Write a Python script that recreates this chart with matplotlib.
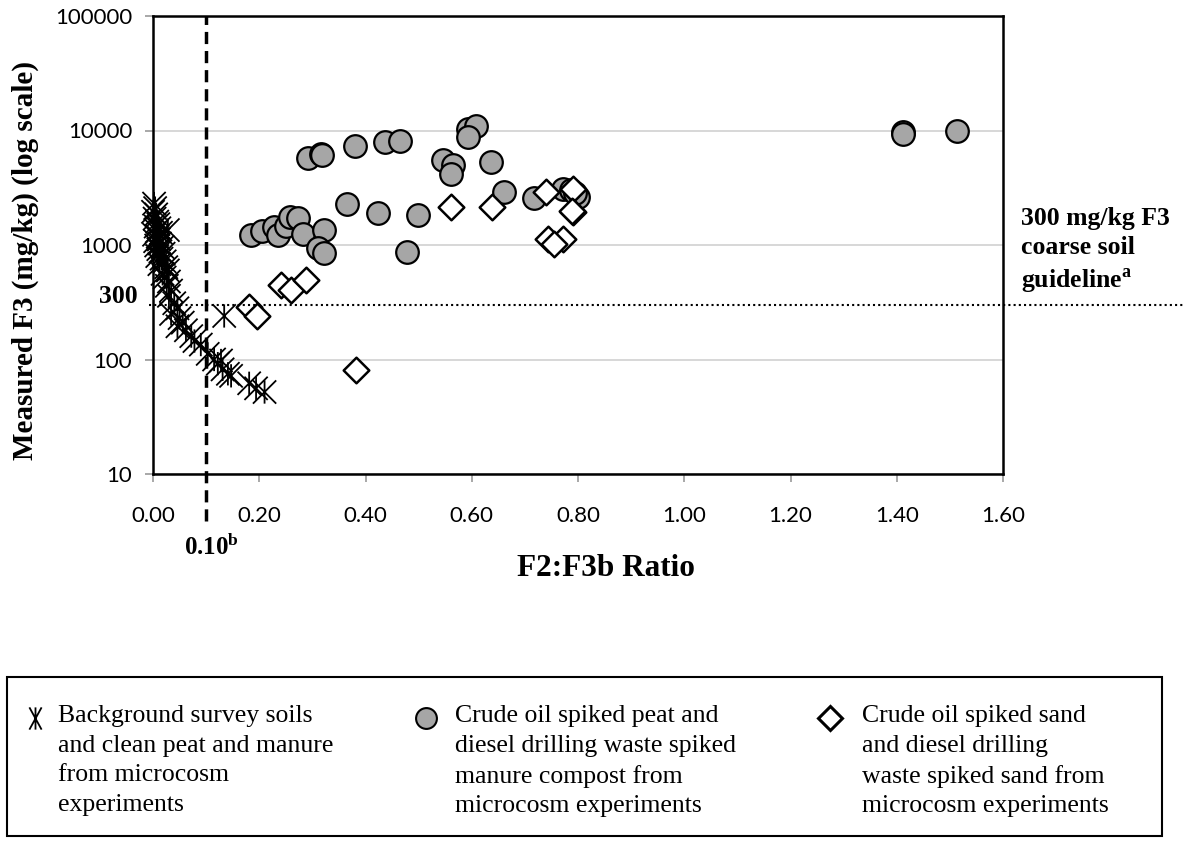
import numpy as np
import matplotlib.pyplot as plt
from matplotlib.path import Path
from matplotlib.lines import Line2D
from matplotlib.patches import Rectangle

plt.rcParams['mathtext.fontset'] = 'custom'
plt.rcParams['mathtext.rm'] = 'Liberation Serif'
plt.rcParams['mathtext.bf'] = 'Liberation Serif:bold'

# background survey soils + clean peat/manure (F2:F3b ratio, F3 mg/kg)
bg_ratio = [0.002, 0.004, 0.000, 0.006, 0.028, 0.003, 0.008, 0.010, 0.005, 0.012,
            0.007, 0.015, 0.002, 0.009, 0.011, 0.004, 0.013, 0.006, 0.018, 0.010,
            0.014, 0.020, 0.008, 0.016, 0.022, 0.012, 0.025, 0.028, 0.018, 0.022,
            0.030, 0.026, 0.034, 0.030, 0.040, 0.046, 0.034, 0.050, 0.056, 0.046,
            0.062, 0.072, 0.078, 0.090, 0.103, 0.115, 0.122, 0.128, 0.131, 0.141,
            0.147, 0.181, 0.194, 0.210, 0.134]
bg_f3 = [2300, 2100, 1950, 1850, 1350, 1700, 1600, 1520, 1450, 1400,
         1320, 1280, 1230, 1180, 1120, 1080, 1030, 990, 960, 920,
         880, 840, 800, 760, 720, 680, 640, 600, 560, 520,
         480, 440, 400, 360, 310, 280, 250, 230, 210, 195,
         180, 160, 145, 135, 112, 100, 92, 98, 82, 75,
         72, 62, 56, 52, 240]

# crude oil spiked peat / diesel drilling waste spiked manure compost
peat_ratio = [0.184, 0.206, 0.228, 0.235, 0.250, 0.257, 0.272, 0.283, 0.321, 0.310,
              0.322, 0.291, 0.316, 0.318, 0.381, 0.437, 0.464, 0.366, 0.423, 0.498,
              0.479, 0.545, 0.564, 0.561, 0.592, 0.608, 0.592, 0.636, 0.661, 0.718,
              0.771, 0.787, 0.800, 0.795, 1.411, 1.411, 1.513]
peat_f3 = [1220, 1330, 1440, 1220, 1470, 1750, 1720, 1240, 1350, 940,
           850, 5700, 6250, 6100, 7300, 7950, 8150, 2300, 1900, 1830,
           860, 5500, 5000, 4200, 10400, 10900, 8800, 5300, 2900, 2550,
           3100, 3000, 2650, 2850, 9800, 9400, 9950]

# crude oil spiked sand / diesel drilling waste spiked sand
sand_ratio = [0.180, 0.196, 0.241, 0.260, 0.288, 0.382, 0.560, 0.639, 0.740, 0.790,
              0.790, 0.788, 0.744, 0.771, 0.755]
sand_f3 = [285, 240, 445, 405, 495, 81, 2150, 2130, 2900, 3100,
           1950, 2000, 1120, 1120, 1030]

guideline_f3 = 300
ratio_cut = 0.10
yticks = [10, 100, 1000, 10000, 100000]
xticks = [0.0, 0.2, 0.4, 0.6, 0.8, 1.0, 1.2, 1.4, 1.6]

W, H = 1183, 844
def fx(px): return px / W
def fy(py): return 1 - py / H

# asterisk marker: X with a vertical bar
star = Path([(-1, -1), (1, 1), (-1, 1), (1, -1), (0, -1), (0, 1)],
            [Path.MOVETO, Path.LINETO] * 3)
star_narrow = Path([(-0.55, -1), (0.55, 1), (-0.55, 1), (0.55, -1), (0, -1), (0, 1)],
                   [Path.MOVETO, Path.LINETO] * 3)

fig = plt.figure(figsize=(W / 100, H / 100), dpi=100)
ax = fig.add_axes([fx(153), fy(474), 850 / W, 458 / H])

ax.set_yscale('log')
ax.set_xlim(0, 1.6)
ax.set_ylim(10, 100000)
ax.set_xticks(xticks)
ax.set_xticklabels(['%.2f' % v for v in xticks])
ax.set_yticks(yticks)
ax.set_yticklabels([str(v) for v in yticks])
ax.yaxis.set_minor_locator(plt.NullLocator())
ax.tick_params(axis='both', colors='#9a9a9a', labelcolor='black', length=6,
               width=1.2, labelsize=16)
ax.tick_params(axis='x', pad=17)
ax.tick_params(axis='y', pad=9)
for lab in ax.get_xticklabels() + ax.get_yticklabels():
    lab.set_family('Lato')
ax.grid(axis='y', color='#d4d4d4', lw=1.3)
ax.set_axisbelow(True)
for s in ax.spines.values():
    s.set_linewidth(1.8)
    s.set_color('black')

ax.scatter(bg_ratio, bg_f3, marker=star, s=280, facecolors='none',
           edgecolors='black', linewidths=1.3, clip_on=False, zorder=3)
ax.scatter(peat_ratio, peat_f3, marker='o', s=265, facecolors='#a6a6a6',
           edgecolors='black', linewidths=1.6, zorder=4)
ax.scatter(sand_ratio, sand_f3, marker='D', s=170, facecolors='white',
           edgecolors='black', linewidths=1.8, zorder=5)

# 0.10 ratio cut-off and 300 mg/kg guideline
ax.plot([ratio_cut, ratio_cut], [3.9, 100000], color='black', lw=2.5,
        ls=(0, (3.5, 2)), clip_on=False, zorder=6)
ax.plot([-0.008, 1.95], [guideline_f3, guideline_f3], color='black', lw=1.5,
        ls=(0, (1, 1.5)), clip_on=False, zorder=6)

serif = 'Liberation Serif'
fig.text(fx(25), fy(261), 'Measured F3 (mg/kg) (log scale)', family=serif,
         weight='bold', fontsize=21, rotation=90, ha='center', va='center')
fig.text(fx(606), fy(569), 'F2:F3b Ratio', family=serif, weight='bold',
         fontsize=22.5, ha='center', va='center')
fig.text(fx(138), fy(296), '300', family=serif, weight='bold', fontsize=18.5,
         ha='right', va='center')
fig.text(fx(211), fy(546), r'$\mathbf{0.10^{b}}$', fontsize=18,
         ha='center', va='center')
fig.text(fx(1021), fy(207), '300 mg/kg F3\ncoarse soil\n' + r'guideline$^{\mathbf{a}}$',
         family=serif, weight='bold', fontsize=18.5, ha='left', va='top',
         linespacing=1.35)

# legend box
fig.add_artist(Rectangle((fx(7), fy(836)), (1162 - 7) / W, (836 - 677) / H,
                         transform=fig.transFigure, fill=False, ec='black', lw=1.5))
legend_items = [
    (35, 58, dict(marker=star_narrow, ms=16, mfc='none', mec='black', mew=1.3),
     'Background survey soils\nand clean peat and manure\nfrom microcosm\nexperiments'),
    (426, 455, dict(marker='o', ms=15, mfc='#a6a6a6', mec='black', mew=1.5),
     'Crude oil spiked peat and\ndiesel drilling waste spiked\nmanure compost from\nmicrocosm experiments'),
    (830, 862, dict(marker='D', ms=12, mfc='white', mec='black', mew=2.2),
     'Crude oil spiked sand\nand diesel drilling\nwaste spiked sand from\nmicrocosm experiments'),
]
for mx, tx, style, label in legend_items:
    fig.add_artist(Line2D([fx(mx)], [fy(718)], transform=fig.transFigure,
                          ls='none', **style))
    fig.text(fx(tx), fy(705), label, family=serif, fontsize=18.5, ha='left',
             va='top', linespacing=1.45)

fig.savefig('out.png', dpi=100)
